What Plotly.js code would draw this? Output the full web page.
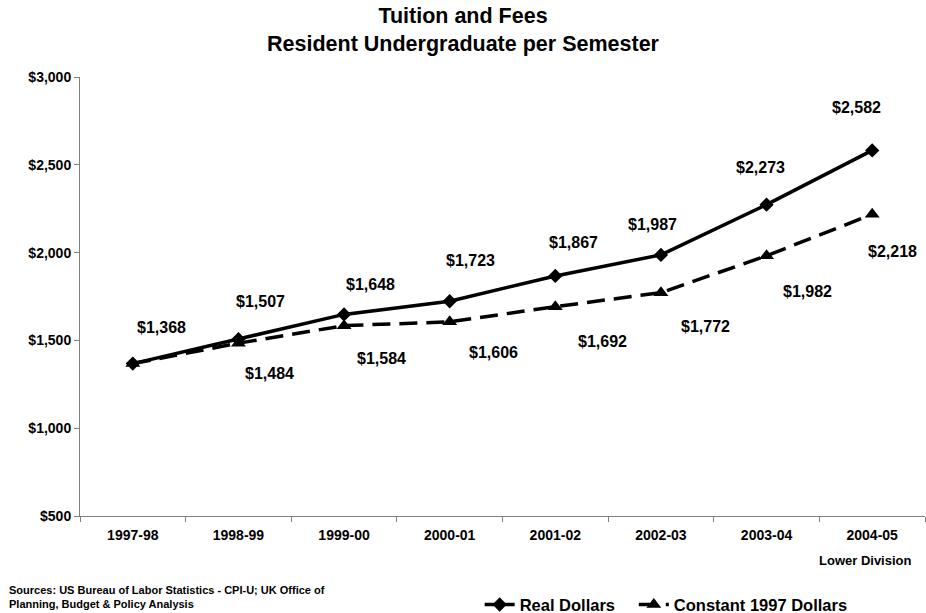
<!DOCTYPE html>
<html><head><meta charset="utf-8">
<script src="https://cdn.plot.ly/plotly-3.0.1.min.js"></script>
<style>body{margin:0;padding:0;background:#fff}#c{width:926px;height:613px}</style>
</head><body><div id="c"></div>
<script>
const years = ["1997-98","1998-99","1999-00","2000-01","2001-02","2002-03","2003-04","2004-05"];
const realDollars = [1368,1507,1648,1723,1867,1987,2273,2582];
const constantDollars = [1368,1484,1584,1606,1692,1772,1982,2218];
const yTickVals = [500,1000,1500,2000,2500,3000];
const yTickText = ["$500","$1,000","$1,500","$2,000","$2,500","$3,000"];

// label placement (pixel offsets from each point: right, down)
const realLabelOffsets = [[29,-36],[22,-38],[26,-30],[21,-41],[18,-33],[-8,-30],[-6,-37],[-16,-43]];
const constLabelOffsets = [null,[31,30],[37,33],[44,31],[47,35],[45,34],[41,36],[20,37]];

const fmt = v => "$" + v.toLocaleString("en-US");
const font = "Liberation Sans, Arial, sans-serif";

const traces = [
  {x: years, y: realDollars, name: "Real Dollars\u00a0\u00a0\u00a0", type: "scatter", mode: "lines+markers",
   line: {color: "#000", width: 3.5}, marker: {symbol: "diamond", size: 11, color: "#000"}},
  {x: years, y: constantDollars, name: "Constant 1997 Dollars", type: "scatter", mode: "lines+markers",
   line: {color: "#000", width: 3.5, dash: "18px,9px"}, marker: {symbol: "triangle-up", size: 13, color: "#000"}}
];

const lblFont = {family: font, size: 16, color: "#000", weight: "bold"};
const annotations = [];
years.forEach((yr, i) => {
  const r = realLabelOffsets[i];
  if (r) annotations.push({x: yr, y: realDollars[i], text: fmt(realDollars[i]), showarrow: false,
    xshift: r[0], yshift: -r[1], font: lblFont});
  const c = constLabelOffsets[i];
  if (c) annotations.push({x: yr, y: constantDollars[i], text: fmt(constantDollars[i]), showarrow: false,
    xshift: c[0], yshift: -c[1], font: lblFont});
});
annotations.push({x: years[7], xref: "x", xshift: -7, y: 0, yref: "paper", yanchor: "middle", yshift: -44, text: "Lower Division",
  showarrow: false, font: {family: font, size: 13, color: "#000", weight: "bold"}});
annotations.push({x: 0, xref: "paper", xanchor: "left", xshift: -73, y: 0, yref: "paper", yanchor: "top", yshift: -66,
  align: "left", showarrow: false,
  text: "Sources: US Bureau of Labor Statistics - CPI-U; UK Office of<br>Planning, Budget &amp; Policy Analysis",
  font: {family: font, size: 11, color: "#000", weight: "bold"}});

const layout = {
  width: 926, height: 613,
  margin: {l: 80, r: 1, t: 77, b: 97},
  paper_bgcolor: "#fff", plot_bgcolor: "#fff",
  title: {text: "Tuition and Fees<br>Resident Undergraduate per Semester", x: 0.5, xanchor: "center", xref: "container",
    y: 0.962, yref: "container", yanchor: "top", font: {family: font, size: 21.5, color: "#000", weight: "bold"}},
  xaxis: {type: "category", tickson: "boundaries", ticks: "outside", ticklen: 5, tickcolor: "#808080",
    showline: true, linecolor: "#808080", linewidth: 1, showgrid: false, zeroline: false, ticklabelstandoff: 6,
    tickfont: {family: font, size: 14, color: "#000", weight: "bold"}, range: [-0.5, 7.5]},
  yaxis: {range: [500, 3000], tickvals: yTickVals, ticktext: yTickText, ticks: "outside", ticklen: 5,
    tickcolor: "#808080", showline: true, linecolor: "#808080", linewidth: 1, showgrid: false, zeroline: false,
    tickfont: {family: font, size: 14, color: "#000", weight: "bold"}},
  showlegend: true,
  legend: {orientation: "h", xref: "container", x: 0.518, xanchor: "left", yref: "container", y: 0.042, yanchor: "top",
    font: {family: font, size: 16.5, color: "#000", weight: "bold"}, itemwidth: 30, bgcolor: "rgba(0,0,0,0)"},
  annotations: annotations
};

Plotly.newPlot("c", traces, layout, {displayModeBar: false});
</script></body></html>
